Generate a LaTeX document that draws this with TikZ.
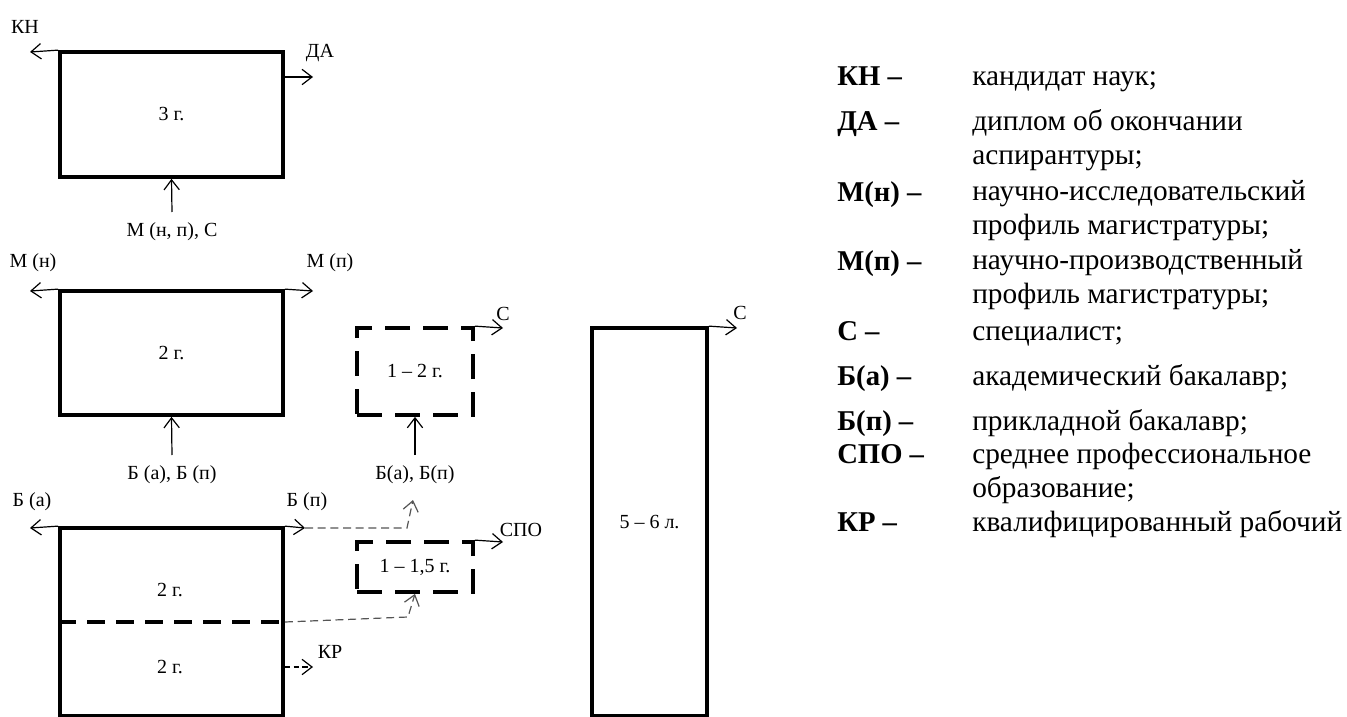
\documentclass[tikz,border=0pt]{standalone}
\usepackage{fontspec}
\setmainfont{Liberation Serif}
\usepackage{tikz}
\usetikzlibrary{positioning, arrows.meta, calc}
\definecolor{ink}{RGB}{0,0,0}
\definecolor{lgrey}{RGB}{85,85,85}

\begin{document}
\begin{tikzpicture}[
  x=0.75pt, y=-0.75pt,
  lbl/.style={font=\fontsize{15}{18}\selectfont, inner sep=0pt},
  box/.style={draw=ink, line width=2.8pt, inner sep=0pt, font=\fontsize{15}{18}\selectfont},
  dbox/.style={box, dash pattern=on 18.75pt off 9.75pt},
  arr/.style={-{Straight Barb[length=7.5pt,width=11.5pt]}, draw=ink, line width=0.9pt},
  garr/.style={arr, draw=lgrey, dash pattern=on 6pt off 3.5pt},
  abbr/.style={font=\fontsize{21.5}{25}\selectfont\bfseries, anchor=base west, inner sep=0pt},
  expl/.style={font=\fontsize{22}{25.2}\selectfont, anchor=base west, align=left, inner sep=0pt}
]
\useasboundingbox (0,0) rectangle (1347,717);

\node[box, minimum width=167.25pt, minimum height=93.75pt] (asp) at (171.5,114.5) {3 г.};
\node[box, minimum width=167.25pt, minimum height=93pt] (mag) at (171.5,353) {2 г.};
\node[box, minimum width=167.25pt, minimum height=141pt] (bak) at (171.5,622) {};
\node[lbl] (bakUp) at (170,590) {2 г.};
\node[lbl] (bakLow) at (170,667) {2 г.};
\draw[draw=ink, line width=2.8pt, dash pattern=on 13.5pt off 8.25pt] (bak.west) -- (bak.east);

\node[dbox, minimum width=87pt, minimum height=65.25pt] (spec) at (415,371.5) {1 – 2 г.};
\node[dbox, minimum width=87pt, minimum height=37.5pt] (spo) at (415,567) {1 – 1,5 г.};
\node[box, minimum width=86.25pt, minimum height=291pt] (tall) at (649.5,522) {5 – 6 л.};

\node[lbl] (kn) at (25,27) {КН};
\node[lbl] (da) at (320,53) {ДА};
\node[lbl] (mnpc) at (172,232) {М (н, п), С};
\node[lbl] (mn) at (33,263) {М (н)};
\node[lbl] (mp) at (330,263) {М (п)};
\node[lbl] (bab) at (172,475) {Б (а), Б (п)};
\node[lbl] (bab2) at (415,475) {Б(а), Б(п)};
\node[lbl] (ba) at (32,502) {Б (а)};
\node[lbl] (bp) at (307,502) {Б (п)};
\node[lbl] (cSpec) at (503,314) {С};
\node[lbl] (cTall) at (740,313) {С};
\node[lbl] (spoLbl) at (521,530) {СПО};
\node[lbl] (kr) at (330,652) {КР};

\coordinate (knEnd) at (30,52);
\coordinate (daEnd) at (313,77);
\coordinate (mnEnd) at (30,291);
\coordinate (mpEnd) at (313,291);
\coordinate (baEnd) at (30,528);
\coordinate (bpEnd) at (305,528);
\coordinate (bpTurn) at (407,528);
\coordinate (bpTip) at (413,500);
\coordinate (splitTurn) at (408,617);
\coordinate (krEnd) at (313,667);
\coordinate (cSpecEnd) at (503,328);
\coordinate (spoEnd) at (503,542);
\coordinate (cTallEnd) at (737,328);

\draw[arr] (asp.north west) -- (knEnd);
\draw[arr] (asp.east |- daEnd) -- (daEnd);
\draw[arr] ([yshift=8pt]mnpc.north) -- (asp.south);
\draw[arr] (mag.north west) -- (mnEnd);
\draw[arr] (mag.north east) -- (mpEnd);
\draw[arr] ([yshift=8pt]bab.north) -- (mag.south);
\draw[arr] ([yshift=8pt]bab2.north) -- (spec.south);
\draw[arr] (spec.north east) -- (cSpecEnd);
\draw[arr] (bak.north west) -- (baEnd);
\draw[arr] (bak.north east) -- (bpEnd);
\draw[garr] (bpEnd) -- (bpTurn) -- (bpTip);
\draw[garr] (bak.east) -- (splitTurn) -- (spo.south);
\draw[arr] (spo.north east) -- (spoEnd);
\draw[arr, dash pattern=on 4pt off 2.5pt] (bak.east |- krEnd) -- (krEnd);
\draw[arr] (tall.north east) -- (cTallEnd);

\node[abbr] (kKN) at (837,86) {КН –};
\node[expl] (dKN) at (972,86) {кандидат наук;};
\node[abbr] (kDA) at (837,131) {ДА –};
\node[expl] (dDA) at (972,164) {диплом об окончании\\аспирантуры;};
\node[abbr] (kMN) at (837,201) {М(н) –};
\node[expl] (dMN) at (972,234) {научно-исследовательский\\профиль магистратуры;};
\node[abbr] (kMP) at (837,270) {М(п) –};
\node[expl] (dMP) at (972,303) {научно-производственный\\профиль магистратуры;};
\node[abbr] (kC) at (837,340) {С –};
\node[expl] (dC) at (972,340) {специалист;};
\node[abbr] (kBA) at (837,385) {Б(а) –};
\node[expl] (dBA) at (972,385) {академический бакалавр;};
\node[abbr] (kBP) at (837,430) {Б(п) –};
\node[expl] (dBP) at (972,430) {прикладной бакалавр;};
\node[abbr] (kSPO) at (837,463) {СПО –};
\node[expl] (dSPO) at (972,497) {среднее профессиональное\\образование;};
\node[abbr] (kKR) at (837,531) {КР –};
\node[expl] (dKR) at (972,531) {квалифицированный рабочий};

\end{tikzpicture}
\end{document}
